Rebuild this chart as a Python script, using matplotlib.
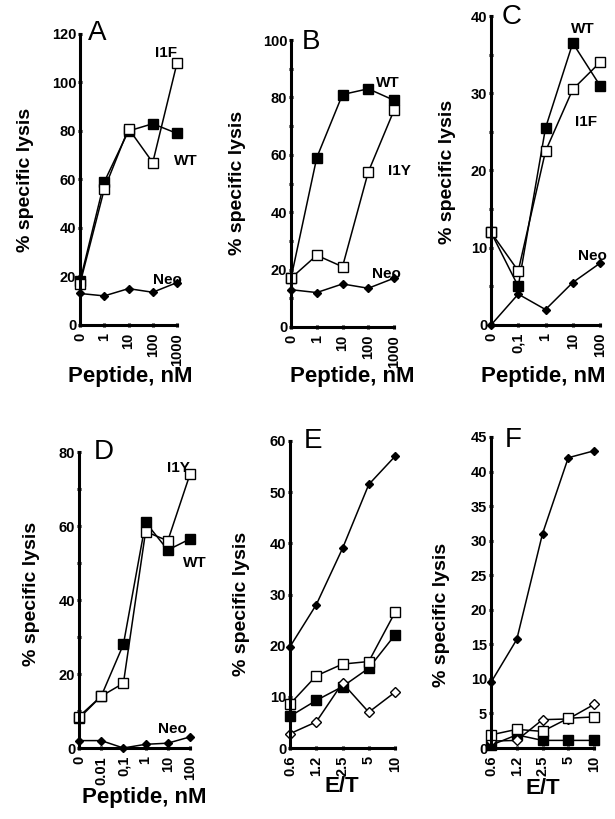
import matplotlib
matplotlib.use('Agg')
import matplotlib.pyplot as plt
from matplotlib.ticker import MultipleLocator

plt.rcParams['font.family'] = ['Liberation Sans', 'DejaVu Sans']
plt.rcParams['font.weight'] = 'bold'

# ---------------- data ----------------
xA = ['0', '1', '10', '100', '1000']
A_wt = [18, 59, 80, 83, 79]
A_i1f = [17, 56, 81, 67, 108]
A_neo = [13, 12, 15, 13.5, 17.5]

xB = ['0', '1', '10', '100', '1000']
B_wt = [17, 59, 81, 83, 79]
B_i1y = [17, 25, 21, 54, 75.5]
B_neo = [13, 12, 15, 13.5, 17]

xC = ['0', '0,1', '1', '10', '100']
C_wt = [12, 5, 25.5, 36.5, 31]
C_i1f = [12, 7, 22.5, 30.5, 34]
C_neo = [0, 4, 2, 5.5, 8]

xD = ['0', '0.01', '0,1', '1', '10', '100']
D_wt = [8, 14, 28, 61, 53.5, 56.5]
D_i1y = [8.5, 14, 17.5, 58.5, 56, 74]
D_neo = [2, 2, 0, 1, 1.3, 3]

xE = ['0.6', '1.2', '2.5', '5', '10']
E_fdiam = [19.8, 28, 39, 51.5, 57]
E_osq = [8.6, 14.1, 16.4, 16.9, 26.5]
E_fsq = [6.2, 9.3, 12.0, 15.6, 22.1]
E_odiam = [2.8, 5.1, 12.7, 7.0, 10.9]

xF = ['0.6', '1.2', '2.5', '5', '10']
F_fdiam = [9.5, 15.7, 31, 42, 43]
F_osq = [1.9, 2.7, 2.4, 4.3, 4.5]
F_fsq = [0.4, 1.9, 1.1, 1.1, 1.1]
F_odiam = [1.0, 1.1, 4.1, 4.2, 6.3]

W, H = 615, 819
fig = plt.figure(figsize=(W / 100, H / 100), dpi=100)


def make_ax(left, right, top, bottom):
    return fig.add_axes([left / W, 1 - bottom / H, (right - left) / W, (bottom - top) / H])


def style(ax, xlabels, ymax, ystep, yminor):
    n = len(xlabels)
    ax.set_xlim(0, n - 1)
    ax.set_ylim(0, ymax)
    ax.set_xticks(range(n))
    ax.set_xticklabels(xlabels, rotation=90, fontsize=10.5, fontweight='bold')
    ax.yaxis.set_major_locator(MultipleLocator(ystep))
    if yminor:
        ax.yaxis.set_minor_locator(MultipleLocator(yminor))
    for s in ['top', 'right']:
        ax.spines[s].set_visible(False)
    for s in ['left', 'bottom']:
        ax.spines[s].set_linewidth(2.2)
    ax.tick_params(axis='both', which='both', direction='inout', length=3.5, width=2.2, color='black')
    ax.tick_params(axis='y', which='major', labelsize=10.5, pad=1)
    ax.tick_params(axis='x', which='major', pad=4)
    for t in ax.get_yticklabels():
        t.set_fontweight('bold')
    ax.patch.set_visible(False)


def line(ax, y, kind):
    x = range(len(y))
    kw = dict(color='black', lw=1.1, clip_on=False)
    if kind == 'fsq':
        ax.plot(x, y, marker='s', ms=6.5, mfc='black', mec='black', **kw)
    elif kind == 'osq':
        ax.plot(x, y, marker='s', ms=7, mfc='white', mec='black', mew=1.0, **kw)
    elif kind == 'fdiam':
        ax.plot(x, y, marker='D', ms=3.6, mfc='black', mec='black', **kw)
    elif kind == 'odiam':
        ax.plot(x, y, marker='D', ms=5, mfc='white', mec='black', mew=1.0, **kw)


def ylab(cx, cy):
    fig.text(cx / W, 1 - cy / H, '% specific lysis', rotation=90, ha='center', va='center',
             fontsize=14, fontweight='bold')


def xlab(cx, cy, s):
    fig.text(cx / W, 1 - cy / H, s, ha='center', va='center', fontsize=16, fontweight='bold')


def letter(cx, cy, s):
    fig.text(cx / W, 1 - cy / H, s, ha='center', va='center', fontsize=20, fontweight='normal')


lab_kw = dict(fontsize=11, fontweight='bold', ha='center', va='center')

# Panel A
ax = make_ax(80, 177, 34, 325)
line(ax, A_neo, 'fdiam')
line(ax, A_wt, 'fsq')
line(ax, A_i1f, 'osq')
style(ax, xA, 120, 20, None)
ax.text(3.55, 112, 'I1F', **lab_kw)
ax.text(4.37, 67.5, 'WT', **lab_kw)
ax.text(3.59, 18.5, 'Neo', **lab_kw)
ylab(25, 180)
xlab(130, 377, 'Peptide, nM')
letter(97, 33, 'A')

# Panel B
ax = make_ax(291, 394, 40, 327)
line(ax, B_neo, 'fdiam')
line(ax, B_wt, 'fsq')
line(ax, B_i1y, 'osq')
style(ax, xB, 100, 20, 10)
ax.text(3.77, 85, 'WT', **lab_kw)
ax.text(4.23, 54.4, 'I1Y', **lab_kw)
ax.text(3.69, 18.5, 'Neo', **lab_kw)
ylab(237, 183)
xlab(352, 377, 'Peptide, nM')
letter(311, 42, 'B')

# Panel C
ax = make_ax(491, 600, 16, 325)
line(ax, C_neo, 'fdiam')
line(ax, C_wt, 'fsq')
line(ax, C_i1f, 'osq')
style(ax, xC, 40, 10, 5)
ax.text(3.38, 38.3, 'WT', **lab_kw)
ax.text(3.49, 26.3, 'I1F', **lab_kw)
ax.text(3.74, 8.9, 'Neo', **lab_kw)
ylab(447, 172)
xlab(543, 377, 'Peptide, nM')
letter(512, 17, 'C')

# Panel D
ax = make_ax(79, 190, 452, 748)
line(ax, D_neo, 'fdiam')
line(ax, D_wt, 'fsq')
line(ax, D_i1y, 'osq')
style(ax, xD, 80, 20, 10)
ax.text(4.46, 75.6, 'I1Y', **lab_kw)
ax.text(5.22, 50, 'WT', **lab_kw)
ax.text(4.23, 5.2, 'Neo', **lab_kw)
ylab(32, 594)
xlab(144, 797, 'Peptide, nM')
letter(104, 452, 'D')

# Panel E
ax = make_ax(290, 395, 441, 748)
line(ax, E_fdiam, 'fdiam')
line(ax, E_fsq, 'fsq')
line(ax, E_odiam, 'odiam')
line(ax, E_osq, 'osq')
style(ax, xE, 60, 10, None)
ylab(242, 604)
xlab(342, 787, 'E/T')
letter(313, 441, 'E')

# Panel F
ax = make_ax(491, 594, 437, 748)
line(ax, F_fdiam, 'fdiam')
line(ax, F_fsq, 'fsq')
line(ax, F_odiam, 'odiam')
line(ax, F_osq, 'osq')
style(ax, xF, 45, 5, None)
ylab(442, 615)
xlab(543, 788, 'E/T')
letter(513, 440, 'F')

fig.savefig('out.png', dpi=100)
